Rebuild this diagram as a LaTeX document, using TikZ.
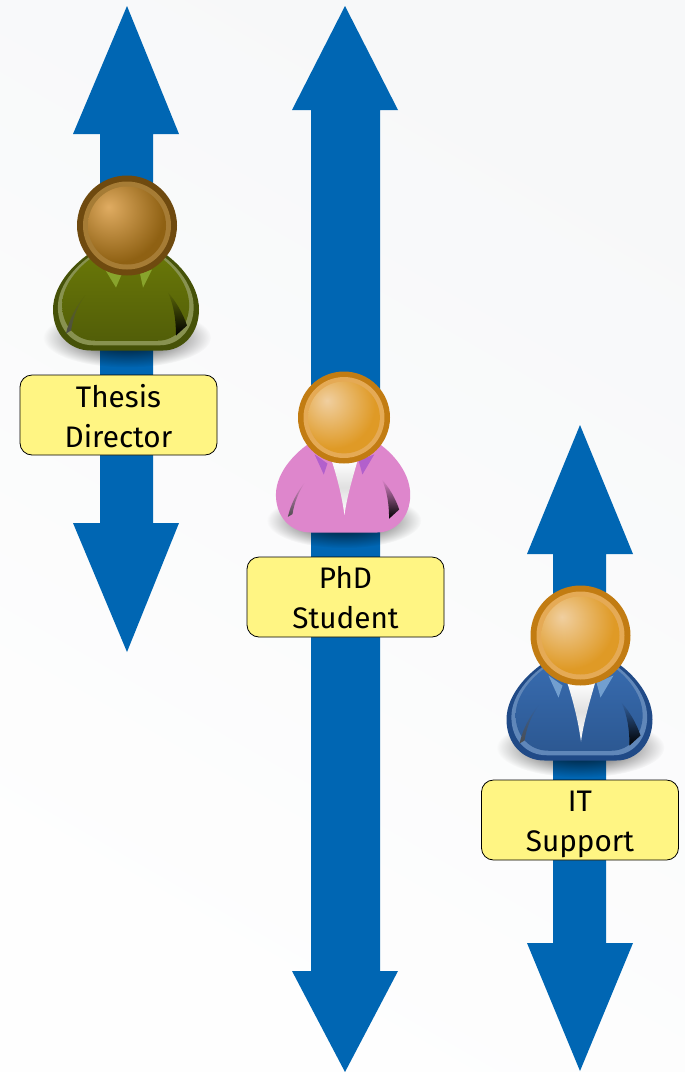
\documentclass[tikz,border=0pt]{standalone}
\usepackage{fontspec}
\setmainfont{Fira Sans}
\usetikzlibrary{fadings}
\definecolor{arrowblue}{HTML}{0066B3}
\definecolor{boxyellow}{HTML}{FFF583}
\definecolor{bgA}{HTML}{F7F8F9}
\definecolor{bgB}{HTML}{FEFEFE}
\definecolor{HeadLiteO}{HTML}{F0CFA0}
\definecolor{HeadMidO}{HTML}{DF9A26}
\definecolor{HeadLiteB}{HTML}{E0AC62}
\definecolor{HeadMidB}{HTML}{8F6113}
\definecolor{ringB}{HTML}{6F4A0F}
\definecolor{ringhiB}{HTML}{A67C35}
\definecolor{ringO}{HTML}{C27C12}
\definecolor{ringhiO}{HTML}{E5AA55}
\definecolor{gStroke}{HTML}{465208}
\definecolor{gHi}{HTML}{889250}
\definecolor{gTop}{HTML}{6A7808}
\definecolor{gBot}{HTML}{525E08}
\definecolor{gCollar}{HTML}{88A42C}
\definecolor{gFold}{HTML}{5A6608}
\definecolor{pink}{HTML}{DE86CC}
\definecolor{pCollar}{HTML}{B260CC}
\definecolor{bStroke}{HTML}{204A87}
\definecolor{bHi}{HTML}{6087B9}
\definecolor{bTop}{HTML}{386CB0}
\definecolor{bBot}{HTML}{2C5892}
\definecolor{bCollar}{HTML}{729FCF}
\definecolor{bFold}{HTML}{32609E}
\tikzfading[name=shadowfade, inner color=transparent!10, outer color=transparent!100]
\tikzset{
  dblarrow/.style={fill=arrowblue,draw=none},
  rolebox/.style={draw=black,line width=0.8pt,fill=boxyellow,rounded corners=12pt,minimum width=197pt,minimum height=80pt,inner sep=0pt},
  roletext/.style={inner sep=0pt,align=center,font=\fontsize{29.7}{40}\selectfont},
}
\pgfdeclareradialshading{headO}{\pgfpoint{-12bp}{12bp}}{color(0bp)=(HeadLiteO); color(30bp)=(HeadMidO); color(100bp)=(HeadMidO)}
\pgfdeclareradialshading{headB}{\pgfpoint{-12bp}{12bp}}{color(0bp)=(HeadLiteB); color(32bp)=(HeadMidB); color(100bp)=(HeadMidB)}
\newcommand{\bodypath}{(-28,22) .. controls (-50,34) and (-74,58) .. (-74,84) .. controls (-74,108) and (-58,125) .. (-36,125) -- (36,125) .. controls (56,125) and (72,108) .. (72,84) .. controls (72,58) and (50,34) .. (28,22) -- cycle}
\newcommand{\folds}[1]{%
  \shade[top color=#1,bottom color=black!70] (-42,70) .. controls (-52,82) and (-58,95) .. (-61,108) -- (-56,105) .. controls (-54,92) and (-49,80) .. (-42,70) -- cycle;
  \shade[top color=#1,middle color=black!70!#1,bottom color=black] (41,67) .. controls (47,80) and (49,95) .. (49,110) -- (60,100) .. controls (56,88) and (49,76) .. (41,67) -- cycle;}
\newcommand{\headfig}[3]{%
  \fill[fill=#2] (0,0) circle[radius=50];
  \fill[fill=#3] (0,0) circle[radius=44];
  \shade[shading=#1] (0,0) circle[radius=39];}
\newcommand{\shadowfig}{\fill[black,path fading=shadowfade] (0,112) ellipse[x radius=84,y radius=30];}
\newcommand{\bluetie}{\shade[top color=white,bottom color=white,middle color=black!12] (-13,48) .. controls (-6,70) and (-2,88) .. (0.5,106) .. controls (3,88) and (8,70) .. (15,46) -- cycle;}
\begin{document}
\begin{tikzpicture}[x=1pt,y=-1pt]
\useasboundingbox (0,0) rectangle (685,1072);
\shade[left color=bgA,right color=bgB,shading angle=-30] (0,0) rectangle (685,1072);
% arrows
\fill[dblarrow] (127,6) -- (179,134) -- (153,134) -- (153,523) -- (179,523) -- (127,652) -- (73,523) -- (100,523) -- (100,134) -- (73,134) -- cycle;
\fill[dblarrow] (345,6) -- (398,110) -- (380,110) -- (380,971) -- (398,971) -- (345,1072) -- (292,971) -- (311,971) -- (311,110) -- (292,110) -- cycle;
\fill[dblarrow] (580,425) -- (633,554) -- (606,554) -- (606,943) -- (633,943) -- (580,1071) -- (527,943) -- (553,943) -- (553,554) -- (527,554) -- cycle;
% Thesis director
\begin{scope}[shift={(127,225.5)}]
  \shadowfig
  \fill[fill=gStroke] \bodypath;
  \begin{scope}[shift={(-0.3,50)},scale=0.93,shift={(0,-50)}]
    \fill[fill=gHi] \bodypath;
  \end{scope}
  \begin{scope}[shift={(-0.5,50)},scale=0.87,shift={(0,-50)}]
    \shade[top color=gTop,bottom color=gBot] \bodypath;
  \end{scope}
  \fill[fill=gCollar] (-22,44) -- (-11,62) -- (-5,48) -- cycle;
  \fill[fill=gCollar] (25,44) -- (16,62) -- (13,48) -- cycle;
  \folds{gFold}
  \headfig{headB}{ringB}{ringhiB}
\end{scope}
% PhD student
\begin{scope}[shift={(344,417.5)},scale=0.92]
  \shadowfig
  \fill[fill=pink] \bodypath;
  \fill[fill=pCollar] (-32,40) -- (-22,62) -- (-18,50) -- cycle;
  \fill[fill=pCollar] (33,40) -- (20,62) -- (16,47) -- cycle;
  \bluetie
  \folds{pink}
  \headfig{headO}{ringO}{ringhiO}
\end{scope}
% IT support
\begin{scope}[shift={(580.5,635.5)}]
  \shadowfig
  \fill[fill=bStroke] \bodypath;
  \begin{scope}[shift={(-0.3,50)},scale=0.93,shift={(0,-50)}]
    \fill[fill=bHi] \bodypath;
  \end{scope}
  \begin{scope}[shift={(-0.5,50)},scale=0.87,shift={(0,-50)}]
    \shade[top color=bTop,bottom color=bBot] \bodypath;
  \end{scope}
  \fill[fill=bCollar] (-32,40) -- (-22,62) -- (-18,50) -- cycle;
  \fill[fill=bCollar] (33,40) -- (20,62) -- (16,47) -- cycle;
  \bluetie
  \folds{bFold}
  \headfig{headO}{ringO}{ringhiO}
\end{scope}
% labels
\node[rolebox] (directorbox) at (118.5,415) {};
\node[roletext] (director) at (118.5,416) {Thesis\\Director};
\node[rolebox] (studentbox) at (345.5,597) {};
\node[roletext] (student) at (345.5,597.5) {PhD\\Student};
\node[rolebox] (supportbox) at (580,820) {};
\node[roletext] (support) at (580,824.5) {IT\\Support};
\end{tikzpicture}
\end{document}
